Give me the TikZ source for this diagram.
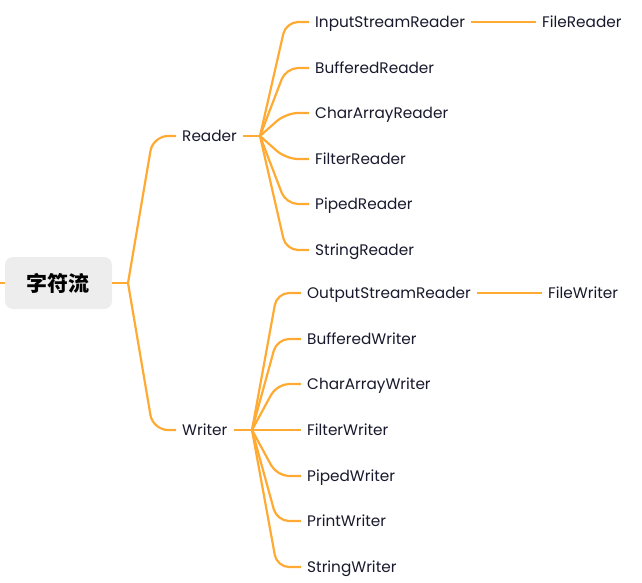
\documentclass[tikz,border=0pt]{standalone}
\usepackage{fontspec}
\setmainfont{Poppins}
\newfontfamily\cjkfont{Noto Sans CJK SC}
\definecolor{branch}{RGB}{255,170,51}
\definecolor{textdark}{RGB}{25,25,45}
\tikzset{
	leaf/.style={anchor=west, inner xsep=6pt, inner ysep=0pt, text height=11pt, text depth=0pt, text=textdark, font=\fontsize{15.3}{17}\selectfont},
	link/.style={draw=branch, line width=2.2pt, rounded corners=12pt},
}
\begin{document}
\begin{tikzpicture}[x=1pt, y=-1pt]
	\useasboundingbox (0,0) rectangle (642,583);
	%% Wurzel
	\node[fill=black!7, rounded corners=8pt, minimum width=107pt, minimum height=52pt, font=\cjkfont\bfseries\fontsize{21}{24}\selectfont, text=black] (root) at (58.5,283) {字符流};
	\coordinate (stub) at (0,283);
	\coordinate (rootb) at (128,283);
	\draw[link] (stub) -- (root.west);
	\draw[link] (root.east) -- (rootb);
	%%%%%%%%%%%%%%%%

	%% Reader
	\node[leaf] (reader) at (176,136) {Reader};
	\coordinate (rdb) at (260,136);
	\draw[link, rounded corners=15pt] (rootb) -- ([xshift=-23pt]reader.west) -- (reader.west);
	\draw[link] (reader.east) -- (rdb);
	\foreach \y/\name/\txt in {22/isr/InputStreamReader, 68/bfr/BufferedReader, 113/car/CharArrayReader, 159/flr/FilterReader, 204/ppr/PipedReader, 250/str/StringReader} {
		\node[leaf] (\name) at (309,\y) {\txt};
		\draw[link] (rdb) -- ([xshift=-23pt]\name.west) -- (\name.west);
	}
	\node[leaf] (fr) at (536,22) {FileReader};
	\draw[link] (isr.east) -- (fr.west);
	%%%%%%%%%%%%%%%%

	%% Writer
	\node[leaf] (writer) at (176,430) {Writer};
	\coordinate (wrb) at (252,430);
	\draw[link, rounded corners=15pt] (rootb) -- ([xshift=-23pt]writer.west) -- (writer.west);
	\draw[link] (writer.east) -- (wrb);
	\foreach \y/\name/\txt in {293/osw/OutputStreamReader, 339/bfw/BufferedWriter, 384/caw/CharArrayWriter, 430/flw/FilterWriter, 476/ppw/PipedWriter, 521/prw/PrintWriter, 567/stw/StringWriter} {
		\node[leaf] (\name) at (301,\y) {\txt};
		\draw[link] (wrb) -- ([xshift=-24pt]\name.west) -- (\name.west);
	}
	\node[leaf] (fw) at (542,293) {FileWriter};
	\draw[link] (osw.east) -- (fw.west);
\end{tikzpicture}
\end{document}
